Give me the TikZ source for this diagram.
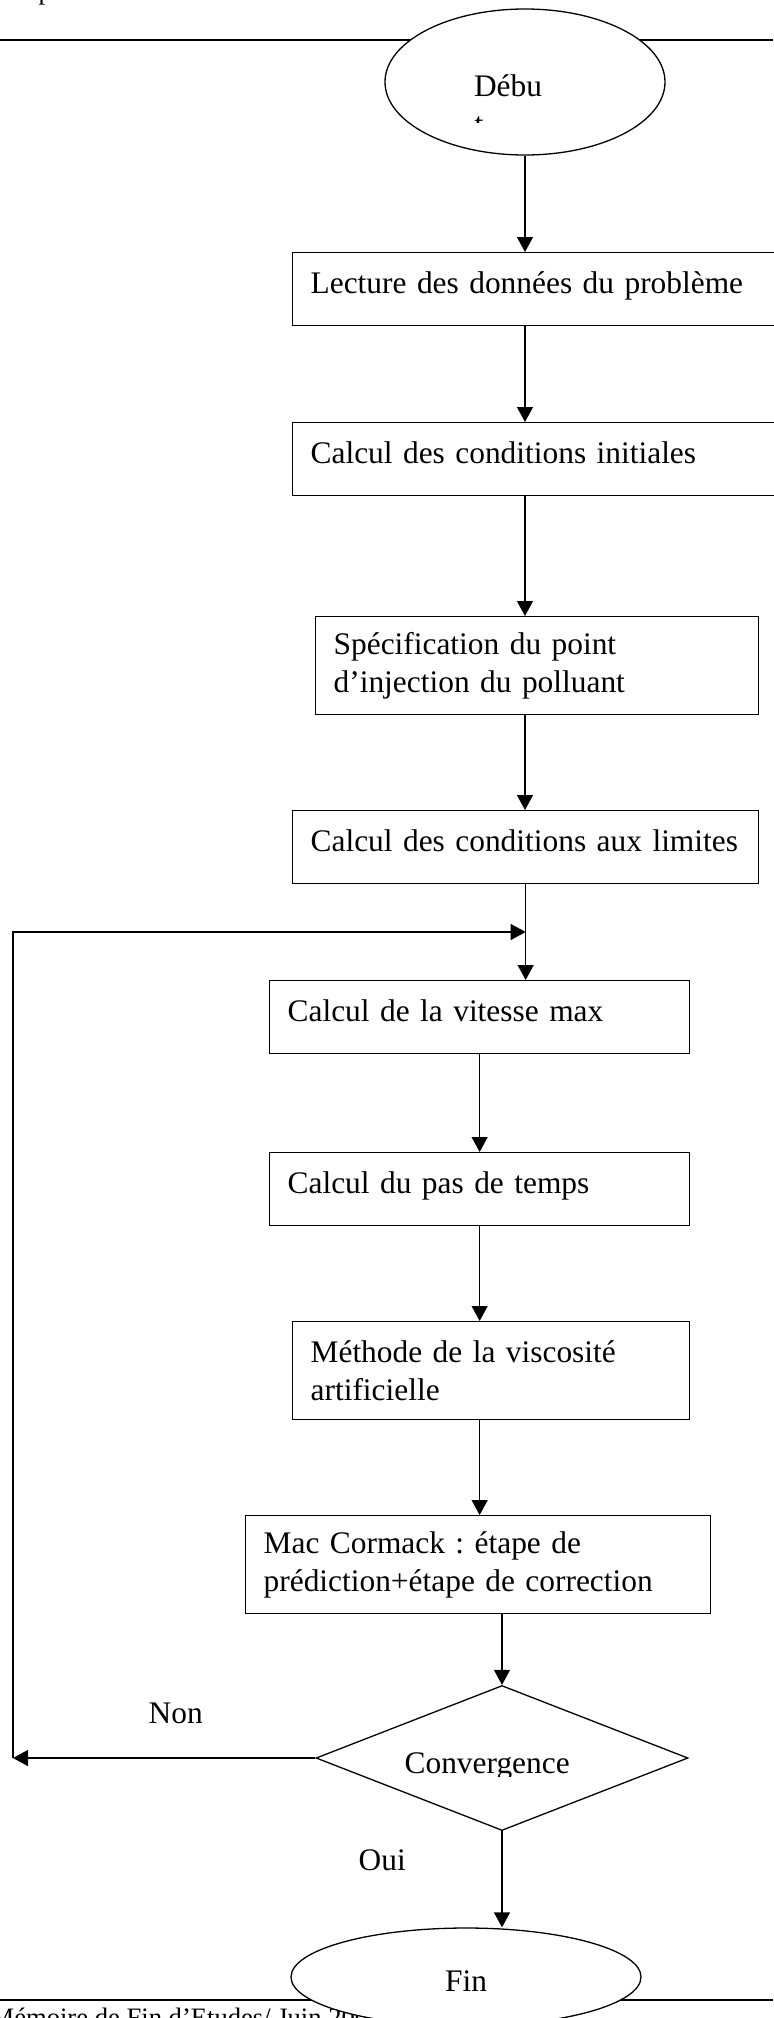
\documentclass[tikz,border=0pt]{standalone}
\usepackage{fontspec}
\setmainfont{Liberation Serif}
\usetikzlibrary{shapes.geometric,arrows.meta}
\frenchspacing

\begin{document}
\begin{tikzpicture}[x=0.5pt, y=-0.5pt, line width=0.65pt,
  font=\fontsize{15.7}{19}\selectfont,
  fleche/.style={-{Triangle[length=7.5pt,width=8pt]}},
  etape/.style={draw, rectangle, anchor=north west, inner xsep=9pt, align=left},
  etape1/.style={etape, minimum height=36.5pt, text height=12pt, text depth=7.5pt},
  etape2/.style={etape, minimum height=49pt},
  terminal/.style={draw, ellipse, fill=white, inner sep=0pt, text height=14.5pt, text depth=0pt},
  libre/.style={anchor=base west, inner sep=0pt},
  petit/.style={libre, font=\fontsize{13.3}{16}\selectfont},
  regle/.style={line width=0.75pt}]

\useasboundingbox (0,0) rectangle (773,2018);

\draw [regle] (0,40) -- (773,40);
\draw [regle] (0,2000) -- (773,2000);
\node [petit] (entete) at (38,-1) {p};
\node [petit] (pied) at (-10,2026) {Mémoire de Fin d’Etudes/ Juin 200};

\node [terminal, minimum width=140pt, minimum height=73pt, text width=51pt, align=left] (debut) at (525,82) {Débu};
\begin{scope}
\clip (465,108) rectangle (495,122);
\node [libre] (debutsuite) at (474,134) {t};
\end{scope}

\node [etape1, text width=231pt] (lecture) at (292,252) {Lecture des données du problème};
\node [etape1, text width=231pt] (initiales) at (292,422) {Calcul des conditions initiales};
\node [etape2, text width=203.5pt] (injection) at (315,616) {Spécification du point\\d’injection du polluant};
\node [etape1, text width=215pt] (limites) at (292,810) {Calcul des conditions aux limites};
\node [etape1, text width=192pt] (vitesse) at (269,980) {Calcul de la vitesse max};
\node [etape1, text width=192pt] (pas) at (269,1152) {Calcul du pas de temps};
\node [etape2, text width=180.5pt] (visco) at (292,1321) {Méthode de la viscosité\\artificielle};
\node [etape2, text width=214.5pt] (maccormack) at (245,1515) {Mac Cormack : étape de\\prédiction+étape de correction};

\node [draw, diamond, minimum width=186pt, minimum height=72.5pt, inner sep=0pt] (conv) at (502,1758) {};
\begin{scope}
\clip (390,1735) rectangle (600,1776);
\node [libre] (convtexte) at (404,1773) {Convergence};
\end{scope}

\node [terminal, minimum width=175pt, minimum height=49pt] (fin) at (466,1977) {Fin};

\node [libre] (non) at (148,1723) {Non};
\node [libre] (oui) at (358,1870) {Oui};

\coordinate (retour) at (13,1758);
\coordinate (coin) at (13,932);
\coordinate (jonction) at (limites.south |- coin);

\draw [fleche] (debut.south) -- (debut.south |- lecture.north);
\draw [fleche] (debut |- lecture.south) -- (debut |- initiales.north);
\draw [fleche] (debut |- initiales.south) -- (debut |- injection.north);
\draw [fleche] (debut |- injection.south) -- (debut |- limites.north);
\draw [fleche] (limites.south) -- (limites.south |- vitesse.north);
\draw [fleche] (vitesse.south) -- (pas.north);
\draw [fleche] (pas.south) -- (pas.south |- visco.north);
\draw [fleche] (pas.south |- visco.south) -- (pas.south |- maccormack.north);
\draw [fleche] (conv |- maccormack.south) -- (conv.north);
\draw [fleche] (conv.west) -- (retour);
\draw [fleche] (retour) -- (coin) -- (jonction);
\draw [fleche] (conv.south) -- (conv.south |- fin.north);

\end{tikzpicture}
\end{document}
